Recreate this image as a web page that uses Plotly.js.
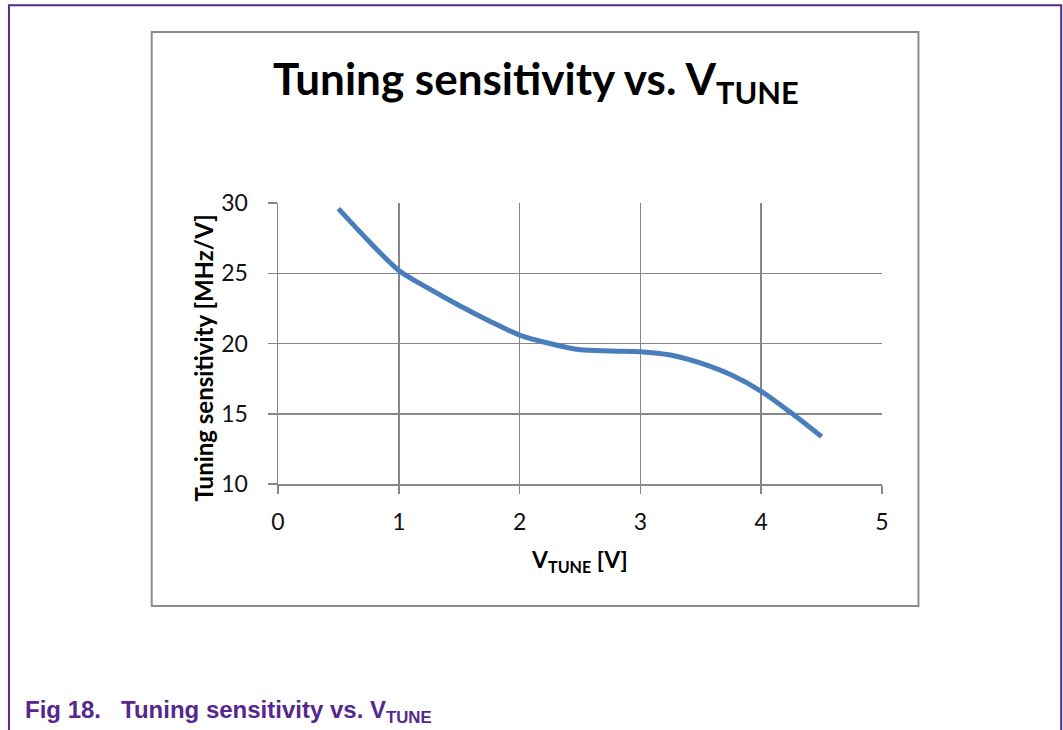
<!DOCTYPE html>
<html>
<head>
<meta charset="utf-8">
<script src="https://cdn.plot.ly/plotly-3.0.1.min.js"></script>
<style>
  html, body { margin: 0; padding: 0; background: #ffffff; }
  #wrap { position: relative; width: 1063px; height: 730px; overflow: hidden; }
  #chart { position: absolute; left: 0; top: 0; width: 1063px; height: 730px; }
</style>
</head>
<body>
<div id="wrap"><div id="chart"></div></div>
<script>
// ---- data ----
const vtune = [0.5, 0.75, 1.0, 1.25, 1.5, 1.75, 2.0, 2.25, 2.5, 2.75, 3.0, 3.25, 3.5, 3.75, 4.0, 4.25, 4.5];
const sensitivity = [29.6, 27.3, 25.2, 23.9, 22.7, 21.6, 20.6, 20.0, 19.55, 19.47, 19.42, 19.18, 18.6, 17.77, 16.6, 15.05, 13.37];
const xTicks = [0, 1, 2, 3, 4, 5];
const yTicks = [10, 15, 20, 25, 30];
const chartTitle = "Tuning sensitivity vs. V<sub>TUNE</sub>";
const xTitle = "V<sub>TUNE</sub> [V]";
const yTitle = "Tuning sensitivity [MHz/V]";
const caption = "Fig 18.   Tuning sensitivity vs. V<sub>TUNE</sub>";

// ---- page geometry (pixels) ----
const W = 1063, H = 730;
const L = 277.5, R = 882.5, T = 202.5, B = 484.5;
const pw = R - L, ph = B - T;
const px = p => (p - L) / pw;
const py = p => 1 - (p - T) / ph;

const FONT = "Lato, 'Open Sans', sans-serif";
const purple = "#56278c";
const grid = "#878787";

const trace = {
  x: vtune, y: sensitivity, type: "scatter", mode: "lines",
  line: { color: "#4a7ebb", width: 5, shape: "spline", smoothing: 0.8 },
  hoverinfo: "skip"
};

const layout = {
  width: W, height: H,
  margin: { l: L, r: W - R, t: T, b: H - B, pad: 0 },
  paper_bgcolor: "#ffffff", plot_bgcolor: "#ffffff",
  showlegend: false,
  xaxis: {
    range: [0, 5], tickvals: xTicks, ticktext: xTicks.map(String),
    showgrid: true, gridcolor: grid, gridwidth: 1.5,
    showline: true, linecolor: grid, linewidth: 1.5,
    ticks: "outside", ticklen: 8, tickcolor: grid, tickwidth: 1.5,
    tickfont: { family: FONT, size: 23, color: "#111" },
    ticklabelstandoff: 9, zeroline: false, fixedrange: true
  },
  yaxis: {
    range: [10, 30], tickvals: yTicks, ticktext: yTicks.map(String),
    showgrid: true, gridcolor: grid, gridwidth: 1.5,
    showline: true, linecolor: grid, linewidth: 1.5,
    ticks: "outside", ticklen: 9, tickcolor: grid, tickwidth: 1.5,
    tickfont: { family: FONT, size: 23, color: "#111" },
    ticklabelstandoff: 15, zeroline: false, fixedrange: true
  },
  shapes: [
    // outer purple frame
    { type: "rect", xref: "paper", yref: "paper",
      x0: px(8), x1: px(1062), y0: py(740), y1: py(4),
      line: { color: purple, width: 2 }, fillcolor: "rgba(0,0,0,0)", layer: "below" },
    // grey chart frame
    { type: "rect", xref: "paper", yref: "paper",
      x0: px(151), x1: px(919), y0: py(607), y1: py(31),
      line: { color: "#8c8c8c", width: 2 }, fillcolor: "rgba(0,0,0,0)", layer: "below" }
  ],
  annotations: [
    { text: chartTitle, xref: "paper", yref: "paper", x: px(536), y: py(81),
      xanchor: "center", yanchor: "middle", showarrow: false,
      font: { family: FONT, size: 44, color: "#000", weight: "bold" } },
    { text: xTitle, xref: "paper", yref: "paper", x: px(579), y: py(561),
      xanchor: "center", yanchor: "middle", showarrow: false,
      font: { family: FONT, size: 23, color: "#000", weight: "bold" } },
    { text: yTitle, xref: "paper", yref: "paper", x: px(203), y: py(358),
      xanchor: "center", yanchor: "middle", showarrow: false, textangle: -90,
      font: { family: FONT, size: 24, color: "#000", weight: "bold" } },
    { text: caption, xref: "paper", yref: "paper", x: px(22), y: py(713),
      xanchor: "left", yanchor: "middle", showarrow: false,
      font: { family: "'Liberation Sans', Arial, sans-serif", size: 24, color: purple, weight: "bold" } }
  ]
};

Plotly.newPlot("chart", [trace], layout, { displayModeBar: false, staticPlot: true });
</script>
</body>
</html>
